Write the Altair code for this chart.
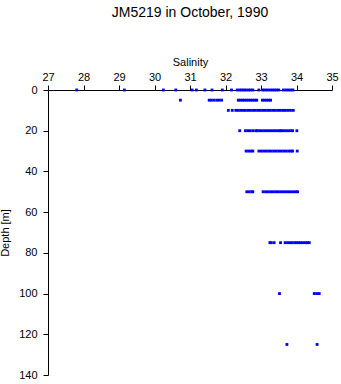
import altair as alt
import pandas as pd

depths = [0, 5, 10, 20, 30, 50, 75, 100, 125]
sal_0 = [27.81, 29.15, 30.25, 30.6, 31.06, 31.18, 31.42, 31.62, 31.91, 32.17, 32.33, 32.4, 32.46,
         32.52, 32.58, 32.65, 32.71, 32.77, 32.94, 33.05, 33.11, 33.18, 33.25, 33.32, 33.38, 33.44,
         33.5, 33.63, 33.7, 33.77, 33.84, 33.9]
sal_5 = [30.73, 31.54, 31.6, 31.67, 31.75, 31.82, 31.89, 32.36, 32.42, 32.48, 32.53, 32.59, 32.65,
         32.71, 32.77, 32.83, 32.88, 33.04, 33.1, 33.16, 33.22, 33.27]
sal_10 = [32.08, 32.19, 32.29, 32.36, 32.43, 32.5, 32.56, 32.63, 32.7, 32.77, 32.84, 32.91, 32.98,
          33.05, 33.12, 33.19, 33.26, 33.33, 33.4, 33.47, 33.54, 33.61, 33.68, 33.75, 33.83, 33.91]
sal_20 = [32.4, 32.56, 32.63, 32.7, 32.78, 32.86, 32.89, 32.96, 33.03, 33.1, 33.17, 33.24, 33.31,
          33.38, 33.45, 33.52, 33.56, 33.62, 33.69, 33.76, 33.83, 33.89, 34.01]
sal_30 = [32.58, 32.65, 32.72, 32.77, 32.94, 33.01, 33.08, 33.15, 33.22, 33.29, 33.36, 33.43, 33.5,
          33.57, 33.64, 33.71, 33.78, 33.85, 33.89, 34.02]
sal_50 = [32.6, 32.67, 32.74, 32.77, 33.06, 33.13, 33.2, 33.27, 33.34, 33.41, 33.48, 33.55, 33.62,
          33.69, 33.76, 33.83, 33.9, 33.97, 34.03]
sal_75 = [33.25, 33.29, 33.37, 33.55, 33.68, 33.75, 33.82, 33.88, 33.95, 34.0, 34.06, 34.12, 34.18,
          34.25, 34.31, 34.36]
sal_100 = [33.52, 34.5, 34.57, 34.64]
sal_125 = [33.73, 34.58]

groups = [sal_0, sal_5, sal_10, sal_20, sal_30, sal_50, sal_75, sal_100, sal_125]
rows = []
for d, vals in zip(depths, groups):
    for s in vals:
        rows.append({"Salinity": s, "Depth": d})
df = pd.DataFrame(rows)

FONT = "Liberation Sans"

chart = alt.Chart(df).mark_square(size=8, color="#0000ff", opacity=1).encode(
    x=alt.X("Salinity:Q",
            scale=alt.Scale(domain=[27, 35], nice=False, zero=False),
            axis=alt.Axis(orient="top", values=list(range(27, 36)), title="Salinity",
                          grid=False, tickSize=5, labelPadding=3, titlePadding=4,
                          domainColor="black", tickColor="black", labelColor="black",
                          titleColor="black", labelFont=FONT, titleFont=FONT,
                          labelFontSize=11, titleFontSize=11, titleFontWeight="normal",
                          labelFlush=False)),
    y=alt.Y("Depth:Q",
            scale=alt.Scale(domain=[0, 140], reverse=True, nice=False),
            axis=alt.Axis(values=list(range(0, 141, 20)), title="Depth [m]",
                          grid=False, tickSize=5, labelPadding=6, titlePadding=8,
                          domainColor="black", tickColor="black", labelColor="black",
                          titleColor="black", labelFont=FONT, titleFont=FONT,
                          labelFontSize=11, titleFontSize=11, titleFontWeight="normal",
                          labelFlush=False)),
).properties(
    width=284, height=285,
    title=alt.TitleParams("JM5219 in October, 1990", font=FONT, fontSize=14,
                          fontWeight="normal", color="black", anchor="middle", offset=36),
    autosize=alt.AutoSizeParams(type="none"),
    padding={"left": 48, "top": 90, "right": 9, "bottom": 9},
).configure_view(stroke=None)

chart.save("out.html", embed_options={"renderer": "svg", "actions": False})
